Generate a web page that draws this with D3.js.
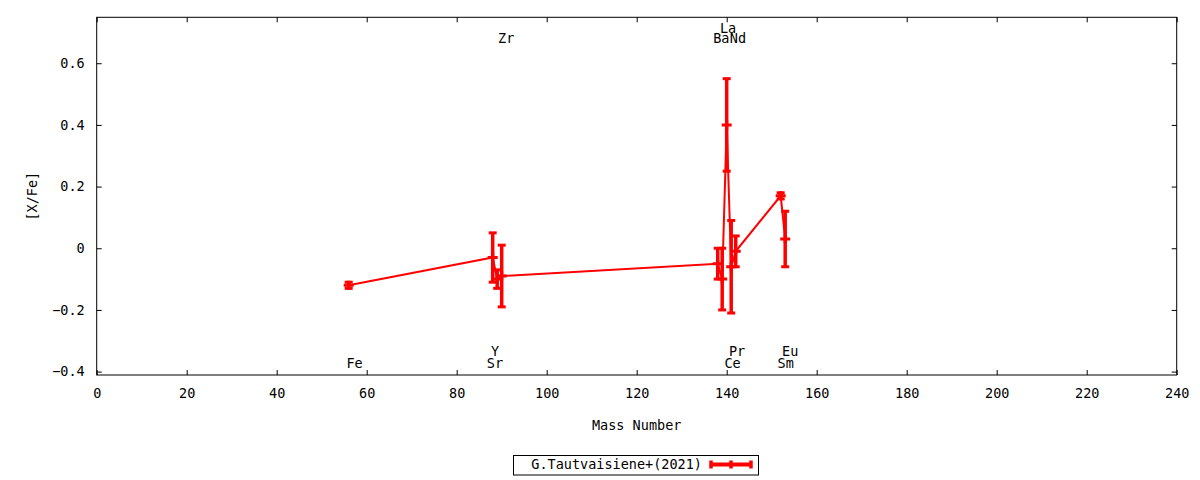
<!DOCTYPE html>
<html>
<head>
<meta charset="utf-8">
<script src="https://cdn.jsdelivr.net/npm/d3@7"></script>
<style>
  html, body { margin: 0; padding: 0; background: #fff; }
  svg { display: block; }
  text { font-family: "DejaVu Sans Mono", monospace; font-size: 13.5px; fill: #000; }
</style>
</head>
<body>
<svg id="chart" width="1200" height="480"></svg>
<script>
// ---- data ----
const elements = ["Fe", "Sr", "Y", "Zr", "Ba", "La", "Ce", "Pr", "Nd", "Sm", "Eu"];
const massNumbers = [56, 88, 89, 90, 138, 139, 140, 141, 142, 152, 153];
const xFeValues = [-0.12, -0.03, -0.10, -0.09, -0.05, -0.10, 0.40, -0.06, -0.01, 0.17, 0.03];
const xFeErrors = [0.01, 0.08, 0.03, 0.10, 0.05, 0.10, 0.15, 0.15, 0.05, 0.01, 0.09];

const labelTexts = ["Fe", "Sr", "Y", "Zr", "Ba", "La", "Nd", "Ce", "Pr", "Sm", "Eu"];
const labelMass  = [57.3, 88.5, 88.5, 91.0, 138.8, 140.3, 142.5, 141.3, 142.3, 153.1, 154.1];
const labelValue = [-0.389, -0.389, -0.349, 0.665, 0.665, 0.697, 0.665, -0.389, -0.349, -0.389, -0.349];

const xTicks = d3.range(0, 241, 20);
const yTicks = [-0.4, -0.2, 0, 0.2, 0.4, 0.6];
const seriesName = "G.Tautvaisiene+(2021)";
const xTitle = "Mass Number";
const yTitle = "[X/Fe]";

(function draw() {
  // ---- layout ----
  const pl = 96.7, pr = 1176.7, pt = 17.3, pb = 375;
  const x = d3.scaleLinear().domain([0, 240]).range([pl, pr]);
  const y = d3.scaleLinear().domain([-0.411, 0.749]).range([pb, pt]);
  const red = "#ff0000";
  const svg = d3.select("#chart");

  const tickLen = 5;
  const styleText = g => g.selectAll("text").style("font-family", "DejaVu Sans Mono").style("font-size", "13.5px").attr("fill", "#000");
  svg.append("g").attr("transform", `translate(0,${pb})`)
    .call(d3.axisBottom(x).tickValues(xTicks).tickSize(-tickLen).tickPadding(13).tickFormat(d3.format("d")))
    .call(g => g.select(".domain").remove()).call(styleText);
  svg.append("g").attr("transform", `translate(0,${pt})`)
    .call(d3.axisTop(x).tickValues(xTicks).tickSize(-tickLen).tickFormat(""))
    .call(g => g.select(".domain").remove());
  svg.append("g").attr("transform", `translate(${pl},0)`)
    .call(d3.axisLeft(y).tickValues(yTicks).tickSize(-tickLen).tickPadding(12).tickFormat(d => d === 0 ? "0" : d3.format(".1f")(d)))
    .call(g => g.select(".domain").remove()).call(styleText);
  svg.append("g").attr("transform", `translate(${pr},0)`)
    .call(d3.axisRight(y).tickValues(yTicks).tickSize(-tickLen).tickFormat(""))
    .call(g => g.select(".domain").remove());
  svg.selectAll(".tick line").attr("stroke", "#000").attr("stroke-width", 1);

  svg.append("rect").attr("x", pl).attr("y", pt).attr("width", pr - pl).attr("height", pb - pt)
    .attr("fill", "none").attr("stroke", "#000").attr("stroke-width", 1);

  svg.append("text").attr("x", (pl + pr) / 2).attr("y", 430).attr("text-anchor", "middle").text(xTitle);
  svg.append("text").attr("transform", `translate(37,${(pt + pb) / 2}) rotate(-90)`).attr("text-anchor", "middle").text(yTitle);

  const labels = labelTexts.map((t, i) => ({ t, m: labelMass[i], v: labelValue[i] }));
  svg.append("g").selectAll("text").data(labels).join("text")
    .attr("x", d => x(d.m)).attr("y", d => y(d.v)).attr("text-anchor", "middle").text(d => d.t);

  const data = elements.map((e, i) => ({ e, m: massNumbers[i], v: xFeValues[i], err: xFeErrors[i] }));
  const plot = svg.append("g");

  plot.append("path").datum(data)
    .attr("d", d3.line().x(d => x(d.m)).y(d => y(d.v)))
    .attr("fill", "none").attr("stroke", red).attr("stroke-width", 2);

  const capW = 4;
  const eb = plot.selectAll("g.eb").data(data).join("g").attr("class", "eb");
  eb.append("line")
    .attr("x1", d => x(d.m)).attr("x2", d => x(d.m))
    .attr("y1", d => y(d.v + d.err)).attr("y2", d => y(d.v - d.err))
    .attr("stroke", red).attr("stroke-width", 3.5);
  eb.append("line")
    .attr("x1", d => x(d.m) - capW).attr("x2", d => x(d.m) + capW)
    .attr("y1", d => y(d.v + d.err)).attr("y2", d => y(d.v + d.err))
    .attr("stroke", red).attr("stroke-width", 3);
  eb.append("line")
    .attr("x1", d => x(d.m) - capW).attr("x2", d => x(d.m) + capW)
    .attr("y1", d => y(d.v - d.err)).attr("y2", d => y(d.v - d.err))
    .attr("stroke", red).attr("stroke-width", 3);
  eb.append("path")
    .attr("d", d => `M${x(d.m) - 5},${y(d.v)}H${x(d.m) + 5}M${x(d.m)},${y(d.v) - 4.5}V${y(d.v) + 4.5}`)
    .attr("stroke", red).attr("stroke-width", 3).attr("fill", "none");

  const lg = svg.append("g");
  lg.append("rect").attr("x", 513.5).attr("y", 455.5).attr("width", 245).attr("height", 19.5)
    .attr("fill", "#fff").attr("stroke", "#000").attr("stroke-width", 1);
  lg.append("text").attr("x", 702).attr("y", 469).attr("text-anchor", "end").text(seriesName);
  const lx1 = 711, lx2 = 751, ly = 464.5;
  lg.append("line").attr("x1", lx1).attr("x2", lx2).attr("y1", ly).attr("y2", ly).attr("stroke", red).attr("stroke-width", 4);
  [lx1, (lx1 + lx2) / 2, lx2].forEach(px => {
    lg.append("line").attr("x1", px).attr("x2", px).attr("y1", ly - 4).attr("y2", ly + 4).attr("stroke", red).attr("stroke-width", 3.5);
  });
})();
</script>
</body>
</html>
